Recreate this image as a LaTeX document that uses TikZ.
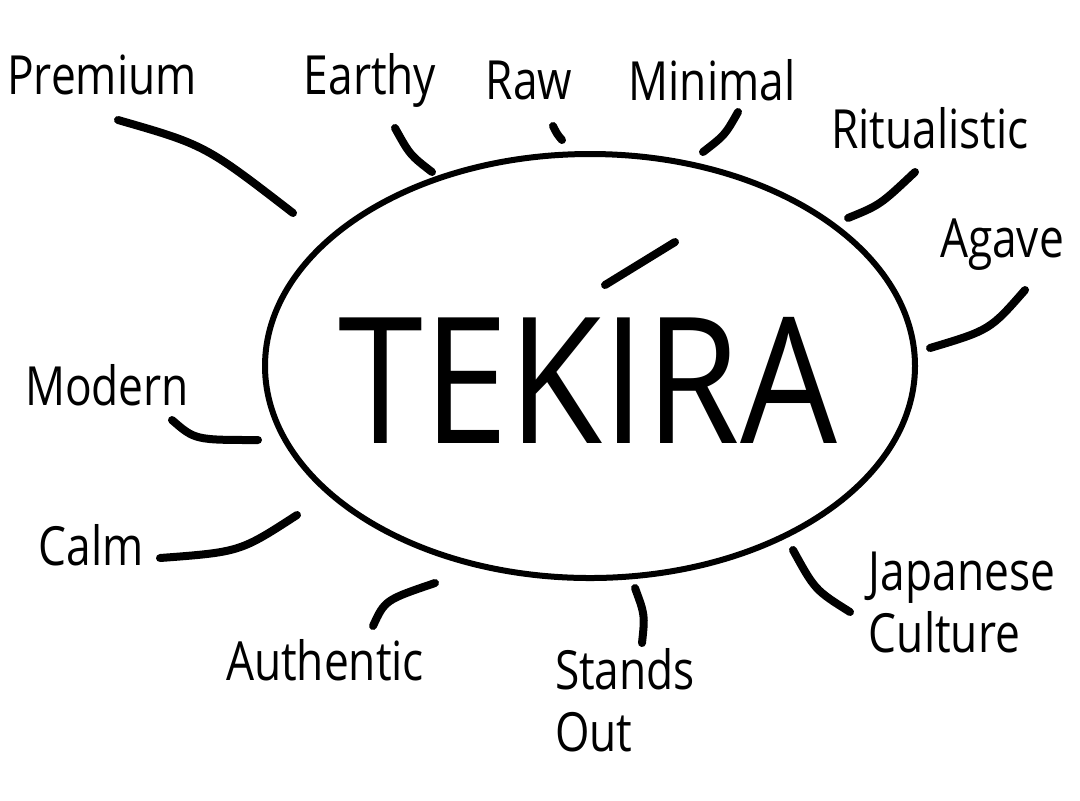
\documentclass[tikz,border=0pt]{standalone}
\usepackage{fontspec}
\setmainfont{Open Sans}
\usetikzlibrary{shapes.geometric}

\begin{document}
\begin{tikzpicture}[
  x=0.5pt, y=-0.5pt,
  word/.style={font=\fontsize{27}{31}\selectfont, inner sep=0pt,
               align=left, xscale=0.82},
  ray/.style={line width=4pt, line cap=round, black},
  brandring/.style={ellipse, draw, line width=3pt,
                    minimum width=325pt, minimum height=212pt},
]

% canvas
\path[fill=white] (0,0) rectangle (1080,800);

% centre
\node[brandring] (brand) at (590,366) {};
\node[font=\fontsize{88}{90}\selectfont, xscale=0.87, inner sep=0pt]
  (name) at (588,380) {TEKIRA};
\coordinate (acc-a) at (605,285);
\coordinate (acc-b) at (675,242);
\draw[ray] (acc-a) -- (acc-b);

% words round the ring
\foreach \n/\x/\y/\txt in {
  prem/102/75/Premium, earth/370/80/Earthy, raw/529/80/Raw,
  mini/712/80/Minimal, ritu/930/128/Ritualistic, agav/1002/245/Agave,
  mode/107/385/Modern, calm/91/545/Calm, auth/325/660/Authentic,
  stnd/625/700/Stands\\Out, japc/962/602/Japanese\\Culture}{
  \node[word] (\n) at (\x,\y) {\txt};
}

% rays
\foreach \n/\ax/\ay/\cx/\cy/\bx/\by in {
  prem/118/120/205/145/293/213, earth/395/128/410/155/432/172,
  raw/553/126/557/134/562/140, mini/738/112/725/135/703/152,
  ritu/915/172/880/205/848/218, agav/1025/290/990/330/930/348,
  mode/172/420/195/440/258/440, calm/160/558/240/552/297/515,
  auth/373/626/385/600/435/583, stnd/635/588/645/615/642/643,
  japc/793/550/815/590/850/612}{
  \coordinate (\n-a) at (\ax,\ay);
  \coordinate (\n-c) at (\cx,\cy);
  \coordinate (\n-b) at (\bx,\by);
  \draw[ray] (\n-a) .. controls (\n-c) .. (\n-b);
}

\end{tikzpicture}
\end{document}
